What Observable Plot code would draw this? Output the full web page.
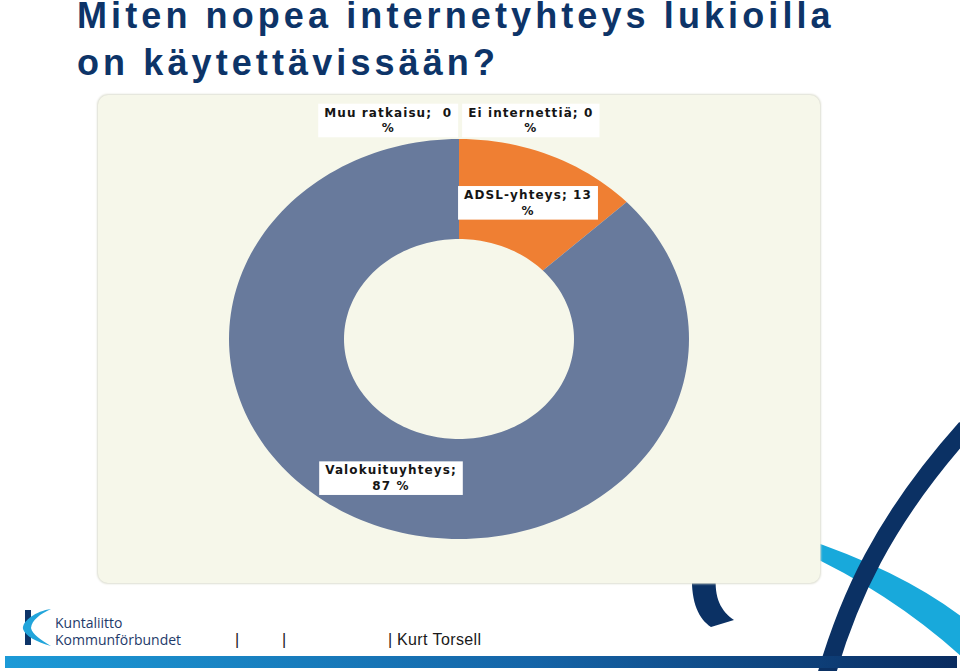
<!DOCTYPE html>
<html>
<head>
<meta charset="utf-8">
<script src="https://cdn.jsdelivr.net/npm/d3@7"></script>
<script src="https://cdn.jsdelivr.net/npm/@observablehq/plot@0.6"></script>
<style>
  body { margin: 0; background: #ffffff; }
  #page { position: relative; width: 960px; height: 671px; overflow: hidden; background: #ffffff; }
  #deco { position: absolute; left: 0; top: 0; }
  .title { position: absolute; left: 77px; margin: 0; font-family: "Liberation Sans", Arial, sans-serif;
           font-weight: bold; font-size: 36px; line-height: 30px; color: #0d3468; letter-spacing: 4.1px; white-space: nowrap; }
  #title1 { top: 1px; }
  #title2 { top: 48px; }
  #chart { position: absolute; left: 98px; top: 95px; }
  #chart svg { border-radius: 10px; box-shadow: 0 0 2px 1px #dedfd3; }
  .foot { position: absolute; white-space: nowrap; }
  .org { left: 55px; font-family: "Open Sans", "Noto Sans", sans-serif; font-size: 14px; line-height: 12px; color: #1e3a6a; }
  #org1 { top: 617px; }
  #org2 { top: 634px; }
  #author { left: 235px; top: 631px; font-family: "Liberation Sans", Arial, sans-serif; font-size: 16px; color: #1a1a1a; letter-spacing: 0.4px; }
</style>
</head>
<body>
<div id="page">
  <svg id="deco" width="960" height="671" viewBox="0 0 960 671">
    <defs>
      <linearGradient id="bar" x1="0" x2="1" y1="0" y2="0">
        <stop offset="0" stop-color="#1c9ad7"/>
        <stop offset="0.55" stop-color="#1565a8"/>
        <stop offset="1" stop-color="#0a2c60"/>
      </linearGradient>
    </defs>
    <!-- light blue swoosh -->
    <path d="M800,537 Q900,570 962,617 L962,657 Q890,592 800,551 Z" fill="#18a9db"/>
    <!-- navy arc -->
    <path d="M826,676 C848,600 882,522 966,428" fill="none" stroke="#0b3164" stroke-width="18"/>
    <!-- navy hook below panel -->
    <path d="M692,575 C691,603 699,619 711,627 L734,620 C721,611 714,598 716,575 Z" fill="#0b3164"/>
    <!-- bottom bar -->
    <rect x="5" y="656" width="952" height="12" fill="url(#bar)"/>
    <!-- logo -->
    <rect x="25" y="610" width="6" height="35" fill="#0d3468"/>
    <path d="M51,609 C36,611 22,621 23,629 C25,636 37,642 51,646 C41,640 32,634 31,628 C32,620 40,614 51,609 Z" fill="#22a5db"/>
  </svg>
  <div id="title1" class="title">Miten nopea internetyhteys lukioilla</div>
  <div id="title2" class="title">on käytettävissään?</div>
  <div id="chart"></div>
  <div id="org1" class="foot org">Kuntaliitto</div>
  <div id="org2" class="foot org">Kommunförbundet</div>
  <div id="author" class="foot"><span style="position:absolute;left:0">|</span><span style="position:absolute;left:47px">|</span><span style="position:absolute;left:153px">|</span><span style="position:absolute;left:162px">Kurt Torsell</span></div>
</div>
<script>
// ---- data ----
const categories = ["Ei internettiä", "ADSL-yhteys", "Valokuituyhteys", "Muu ratkaisu"];
const values = [0, 13, 87, 0];
const sliceColors = ["#c0504d", "#ef7f33", "#687a9c", "#9bbb59"];
const labelTexts = ["Ei internettiä; 0\n%", "ADSL-yhteys; 13\n%", "Valokuituyhteys;\n87 %", "Muu ratkaisu;  0\n%"];

// ---- geometry derived from data ----
const total = d3.sum(values);
const innerR = 0.5, outerR = 1, labelR = 0.75;
const arcPoints = [];
const labels = [];
let cum = 0;
categories.forEach((c, i) => {
  const v = values[i];
  const a0 = cum / total * 2 * Math.PI;
  const a1 = (cum + v) / total * 2 * Math.PI;
  if (v > 0) {
    const n = Math.max(2, Math.ceil(v * 2));
    for (let k = 0; k <= n; k++) {
      const a = a0 + (a1 - a0) * k / n;
      arcPoints.push({category: c, xo: outerR * Math.sin(a), yo: outerR * Math.cos(a),
                      xi: innerR * Math.sin(a), yi: innerR * Math.cos(a)});
    }
    const am = (a0 + a1) / 2;
    labels.push({text: labelTexts[i], x: labelR * Math.sin(am), y: labelR * Math.cos(am)});
  } else {
    // zero slices: label pushed above the ring, to the side of the 12 o'clock position
    const side = cum === 0 ? 1 : -1;
    labels.push({text: labelTexts[i], x: side * 0.31, y: 1.10});
  }
  cum += v;
});

const chart = Plot.plot({
  width: 722,
  height: 488,
  margin: 0,
  x: {domain: [-361 / 230, 361 / 230], axis: null},
  y: {domain: [-244 / 200, 244 / 200], axis: null},
  color: {domain: categories, range: sliceColors},
  style: {background: "#f6f7ea", fontFamily: "DejaVu Sans, Verdana, sans-serif", letterSpacing: "1.1px", overflow: "visible"},
  marks: [
    Plot.area(arcPoints, {x1: "xi", y1: "yi", x2: "xo", y2: "yo", z: "category", fill: "category"}),
    Plot.text(labels, {x: "x", y: "y", text: "text", fill: "#151515", fontWeight: "bold", fontSize: 12, lineHeight: 1.3})
  ]
});
document.getElementById("chart").appendChild(chart);

// white boxes behind the data labels
chart.querySelectorAll('g[aria-label="text"] text').forEach(t => {
  const b = t.getBBox();
  const r = document.createElementNS("http://www.w3.org/2000/svg", "rect");
  r.setAttribute("x", b.x - 6);
  r.setAttribute("y", b.y - 2);
  r.setAttribute("width", b.width + 12);
  r.setAttribute("height", b.height + 4);
  r.setAttribute("fill", "#ffffff");
  const tr = t.getAttribute("transform");
  if (tr) r.setAttribute("transform", tr);
  t.parentNode.insertBefore(r, t);
});
</script>
</body>
</html>
